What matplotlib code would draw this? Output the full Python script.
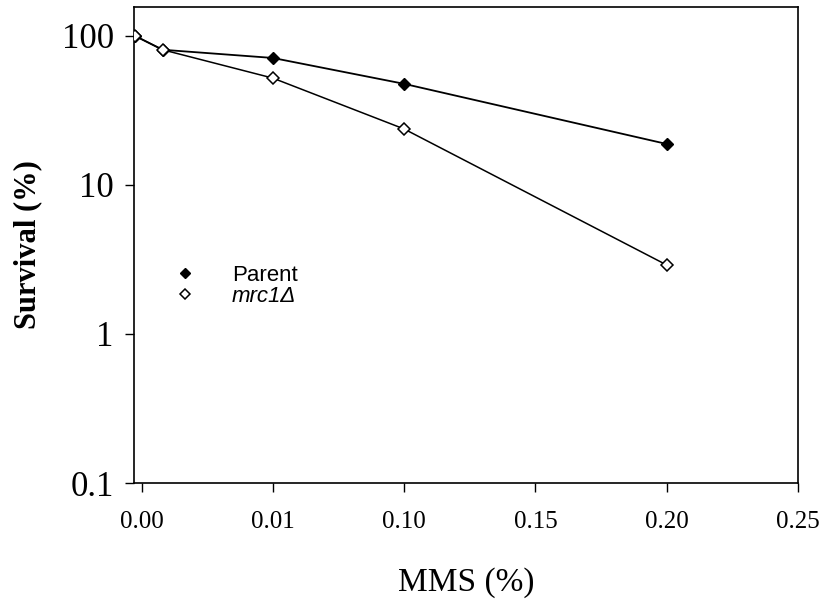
import matplotlib
matplotlib.use('Agg')
from matplotlib import pyplot as plt

# Survival after MMS treatment (x positions on the plotted scale)
parent_x = [-0.0026, 0.008, 0.05, 0.10, 0.20]
parent_y = [100, 80.6, 71, 47.6, 18.8]
mrc1_x = [-0.0026, 0.008, 0.05, 0.10, 0.20]
mrc1_y = [100, 80.6, 52, 23.7, 2.9]

x_ticks = [0.0, 0.05, 0.10, 0.15, 0.20, 0.25]
x_labels = ['0.00', '0.01', '0.10', '0.15', '0.20', '0.25']
y_ticks = [0.1, 1, 10, 100]
y_labels = ['0.1', '1', '10', '100']

fig = plt.figure(figsize=(8.4, 6.03), dpi=100)
ax = fig.add_axes([0.1595, 0.199, 0.7905, 0.7894])

ax.plot(parent_x, parent_y, color='black', lw=1.3, marker='D', ms=6.5,
        mfc='black', mec='black', label='Parent', zorder=2)
ax.plot(mrc1_x, mrc1_y, color='black', lw=1.1, marker='D', ms=6.5,
        mfc='white', mec='black', mew=1.1, label='mrc1Δ', zorder=3)

ax.set_yscale('log')
ax.set_xlim(-0.0029, 0.25)
ax.set_ylim(0.1, 156)

ax.set_xticks(x_ticks)
ax.set_xticklabels(x_labels, family='Liberation Serif', fontsize=18)
ax.set_yticks(y_ticks)
ax.set_yticklabels(y_labels, family='Liberation Serif', fontsize=25)
ax.minorticks_off()
ax.tick_params(direction='out', length=6.5, width=1, pad=8)
ax.tick_params(axis='x', pad=14)

for s in ax.spines.values():
    s.set_linewidth(1.2)

ax.set_xlabel('MMS (%)', family='Liberation Serif', fontsize=24, labelpad=24)
ax.set_ylabel('Survival (%)', family='Liberation Serif', fontsize=22,
              fontweight='bold', labelpad=14)

leg = ax.legend(loc='upper left', bbox_to_anchor=(0.03, 0.50), frameon=False,
                prop={'family': 'Liberation Sans', 'size': 16},
                handlelength=1.0, handletextpad=1.6, labelspacing=0.0,
                markerscale=0.8)
for line in leg.get_lines():
    line.set_linestyle('')
leg.get_texts()[1].set_fontstyle('italic')

fig.savefig('out.png', dpi=100)
